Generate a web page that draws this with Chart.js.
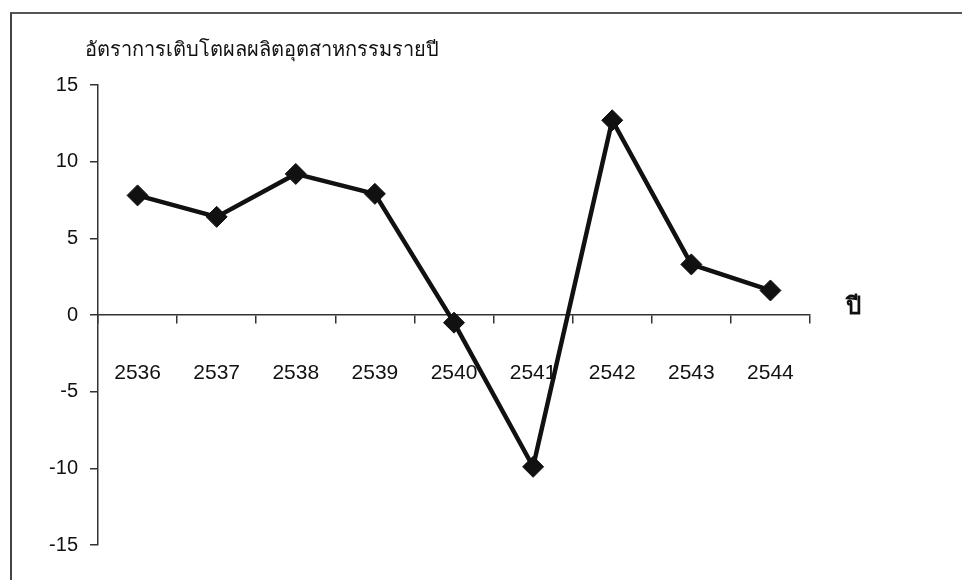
<!DOCTYPE html>
<html lang="th">
  <head>
    <meta charset="UTF-8" />
    <title>อัตราการเติบโตผลผลิตอุตสาหกรรมรายปี</title>
    <style type="text/css">
      body {
        margin: 0;
        background: #ffffff;
        font-family: "Liberation Sans", Arial, sans-serif;
      }
      .wrap {
        position: relative;
        width: 962px;
        height: 580px;
        overflow: hidden;
      }
      .frame {
        position: absolute;
        left: 10px;
        top: 12px;
        width: 1000px;
        height: 700px;
        border-left: 2px solid #444;
        border-top: 2px solid #555;
      }
      .title {
        position: absolute;
        left: 85px;
        top: 33px;
        font-size: 20px;
        color: #111;
        white-space: nowrap;
      }
      .xlabel {
        position: absolute;
        left: 846px;
        top: 286px;
        font-size: 24px;
        font-weight: bold;
        color: #111;
      }
      #chart {
        position: absolute;
        left: 0;
        top: 0;
      }
    </style>
  </head>
  <body>
    <div class="wrap">
      <div class="frame"></div>
      <canvas id="chart" width="962" height="580"></canvas>
      <div class="title">อัตราการเติบโตผลผลิตอุตสาหกรรมรายปี</div>
      <div class="xlabel">ปี</div>
    </div>

    <script src="https://cdn.jsdelivr.net/npm/chart.js@4.4.1/dist/chart.umd.min.js"></script>
    <script type="text/javascript">
      const years = ["2536", "2537", "2538", "2539", "2540", "2541", "2542", "2543", "2544"];
      const growth = [7.8, 6.4, 9.2, 7.9, -0.5, -9.9, 12.7, 3.3, 1.6];
      const yTicks = [15, 10, 5, 0, -5, -10, -15];

      const ink = "#111111";

      new Chart("chart", {
        type: "line",
        data: {
          labels: years,
          datasets: [
            {
              data: growth,
              borderColor: ink,
              borderWidth: 4.5,
              pointStyle: "rectRot",
              pointRadius: 10.5,
              pointBackgroundColor: ink,
              pointBorderColor: ink,
              pointBorderWidth: 1,
              tension: 0,
              fill: false,
            },
          ],
        },
        options: {
          responsive: false,
          animation: false,
          layout: { padding: { top: 85, bottom: 35, right: 152, left: 0 } },
          plugins: {
            legend: { display: false },
            tooltip: { enabled: false },
          },
          scales: {
            x: {
              position: { y: 0 },
              offset: true,
              grid: {
                offset: true,
                drawOnChartArea: false,
                drawTicks: true,
                tickLength: 8,
                color: "#333",
                lineWidth: 1.5,
              },
              border: { color: "#333", width: 1.5 },
              ticks: {
                color: ink,
                padding: 38,
                maxRotation: 0,
                autoSkip: false,
                font: { family: "Liberation Sans", size: 21 },
              },
            },
            y: {
              min: -15,
              max: 15,
              afterFit: (scale) => {
                scale.width = 98;
              },
              afterBuildTicks: (scale) => {
                scale.ticks = yTicks.map((v) => ({ value: v }));
              },
              grid: {
                drawOnChartArea: false,
                drawTicks: true,
                tickLength: 8,
                color: "#333",
                lineWidth: 1.5,
              },
              border: { color: "#333", width: 1.5 },
              ticks: {
                color: ink,
                padding: 12,
                font: { family: "Liberation Sans", size: 20 },
              },
            },
          },
        },
      });
    </script>
  </body>
</html>
